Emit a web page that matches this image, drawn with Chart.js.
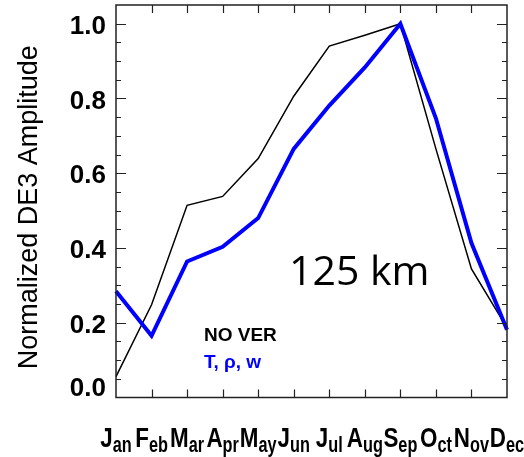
<!DOCTYPE html>
<html><head><meta charset="utf-8">
<script src="https://cdn.jsdelivr.net/npm/chart.js@4/dist/chart.umd.min.js"></script>
<style>html,body{margin:0;padding:0;background:#fff}</style>
</head><body>
<canvas id="c" width="524" height="457"></canvas>
<script>
const months = ['Jan','Feb','Mar','Apr','May','Jun','Jul','Aug','Sep','Oct','Nov','Dec'];
const noVer  = [0.056, 0.248, 0.514, 0.538, 0.639, 0.806, 0.940, 0.969, 1.000, 0.665, 0.344, 0.186];
const tRhoW  = [0.284, 0.165, 0.364, 0.403, 0.480, 0.665, 0.781, 0.883, 1.000, 0.747, 0.413, 0.181];
const yTickValues = [0, 0.2, 0.4, 0.6, 0.8, 1.0];
const yTickLabels = ['0.0', '0.2', '0.4', '0.6', '0.8', '1.0'];
const seriesNames = ['NO VER', 'T, \u03C1, w'];
const altitudeLabel = '125 km';
const yTitle = 'Normalized DE3 Amplitude';

const FONT = '"Liberation Sans", Arial, Helvetica, sans-serif';

const decor = {
  id: 'decor',
  afterDraw(chart) {
    const ctx = chart.ctx, ca = chart.chartArea;
    const xs = chart.scales.x, ys = chart.scales.y;
    ctx.save();
    // frame
    ctx.strokeStyle = '#222';
    ctx.lineWidth = 1.5;
    ctx.strokeRect(ca.left, ca.top, ca.right - ca.left, ca.bottom - ca.top);
    // y ticks (inward, both sides)
    ctx.lineWidth = 1.2;
    ctx.beginPath();
    for (let k = 1; k <= 20; k++) {
      const v = k * 0.05;
      const py = Math.round(ys.getPixelForValue(v)) + 0.5;
      const major = (k % 4 === 0);
      const len = major ? 10 : 5;
      ctx.moveTo(ca.left, py); ctx.lineTo(ca.left + len, py);
      ctx.moveTo(ca.right, py); ctx.lineTo(ca.right - len, py);
    }
    // x ticks (inward, top and bottom)
    for (let i = 1; i < months.length - 1; i++) {
      const px = Math.round(xs.getPixelForValue(i)) + 0.5;
      ctx.moveTo(px, ca.bottom); ctx.lineTo(px, ca.bottom - 8);
      ctx.moveTo(px, ca.top); ctx.lineTo(px, ca.top + 8);
    }
    ctx.stroke();

    // y tick labels
    ctx.fillStyle = '#000';
    ctx.font = 'bold 26px ' + FONT;
    ctx.textAlign = 'right';
    ctx.textBaseline = 'middle';
    yTickValues.forEach((v, i) => {
      let py = ys.getPixelForValue(v) + 3;
      if (py > ca.bottom - 10) py = ca.bottom - 9;
      ctx.fillText(yTickLabels[i], ca.left - 10, py);
    });

    // y axis title
    ctx.save();
    ctx.translate(30, (ca.top + ca.bottom) / 2 + 6);
    ctx.rotate(-Math.PI / 2);
    ctx.textAlign = 'center';
    ctx.textBaseline = 'middle';
    ctx.font = '27px ' + FONT;
    ctx.fillText(yTitle, 0, 0);
    ctx.restore();

    // x labels with subscript tails
    ctx.textAlign = 'left';
    ctx.textBaseline = 'alphabetic';
    const bigFont = 'bold 28px ' + FONT, smallFont = 'bold 22px ' + FONT;
    const bigSx = 0.8, smallSx = 0.74;
    months.forEach((m, i) => {
      const px = xs.getPixelForValue(i);
      const b = m[0], s = m.slice(1);
      ctx.font = bigFont; const wb = ctx.measureText(b).width * bigSx;
      ctx.font = smallFont; const wsm = ctx.measureText(s).width * smallSx;
      const x0 = px - (wb + wsm) / 2;
      ctx.save(); ctx.translate(x0, 447); ctx.scale(bigSx, 1);
      ctx.font = bigFont; ctx.fillText(b, 0, 0); ctx.restore();
      ctx.save(); ctx.translate(x0 + wb, 452); ctx.scale(smallSx, 1);
      ctx.font = smallFont; ctx.fillText(s, 0, 0); ctx.restore();
    });

    // legend text
    ctx.font = 'bold 19px ' + FONT;
    ctx.textBaseline = 'middle';
    ctx.fillStyle = '#000';
    ctx.fillText(seriesNames[0], 204, 336);
    ctx.fillStyle = '#0000ff';
    ctx.fillText(seriesNames[1], 204, 363);

    // altitude annotation
    ctx.fillStyle = '#000';
    ctx.font = '41px "Open Sans", sans-serif';
    ctx.textBaseline = 'alphabetic';
    ctx.fillText(altitudeLabel, 289, 285);
    ctx.restore();
  }
};

new Chart(document.getElementById('c'), {
  type: 'line',
  data: {
    labels: months,
    datasets: [
      { label: seriesNames[1], data: tRhoW, borderColor: '#0000ff', borderWidth: 4, pointRadius: 0, tension: 0, fill: false },
      { label: seriesNames[0], data: noVer, borderColor: '#000000', borderWidth: 1.5, pointRadius: 0, tension: 0, fill: false }
    ]
  },
  options: {
    responsive: false,
    animation: false,
    events: [],
    layout: { padding: { top: 5, right: 17, left: 0, bottom: 0 } },
    plugins: { legend: { display: false }, tooltip: { enabled: false } },
    scales: {
      x: {
        type: 'category',
        offset: false,
        grid: { display: false },
        border: { display: false },
        ticks: { display: false },
        afterFit(s) { s.height = 59.5; }
      },
      y: {
        min: 0, max: 1.05,
        grid: { display: false },
        border: { display: false },
        ticks: { display: false },
        afterFit(s) { s.width = 116; }
      }
    }
  },
  plugins: [decor]
});
</script>
</body></html>
